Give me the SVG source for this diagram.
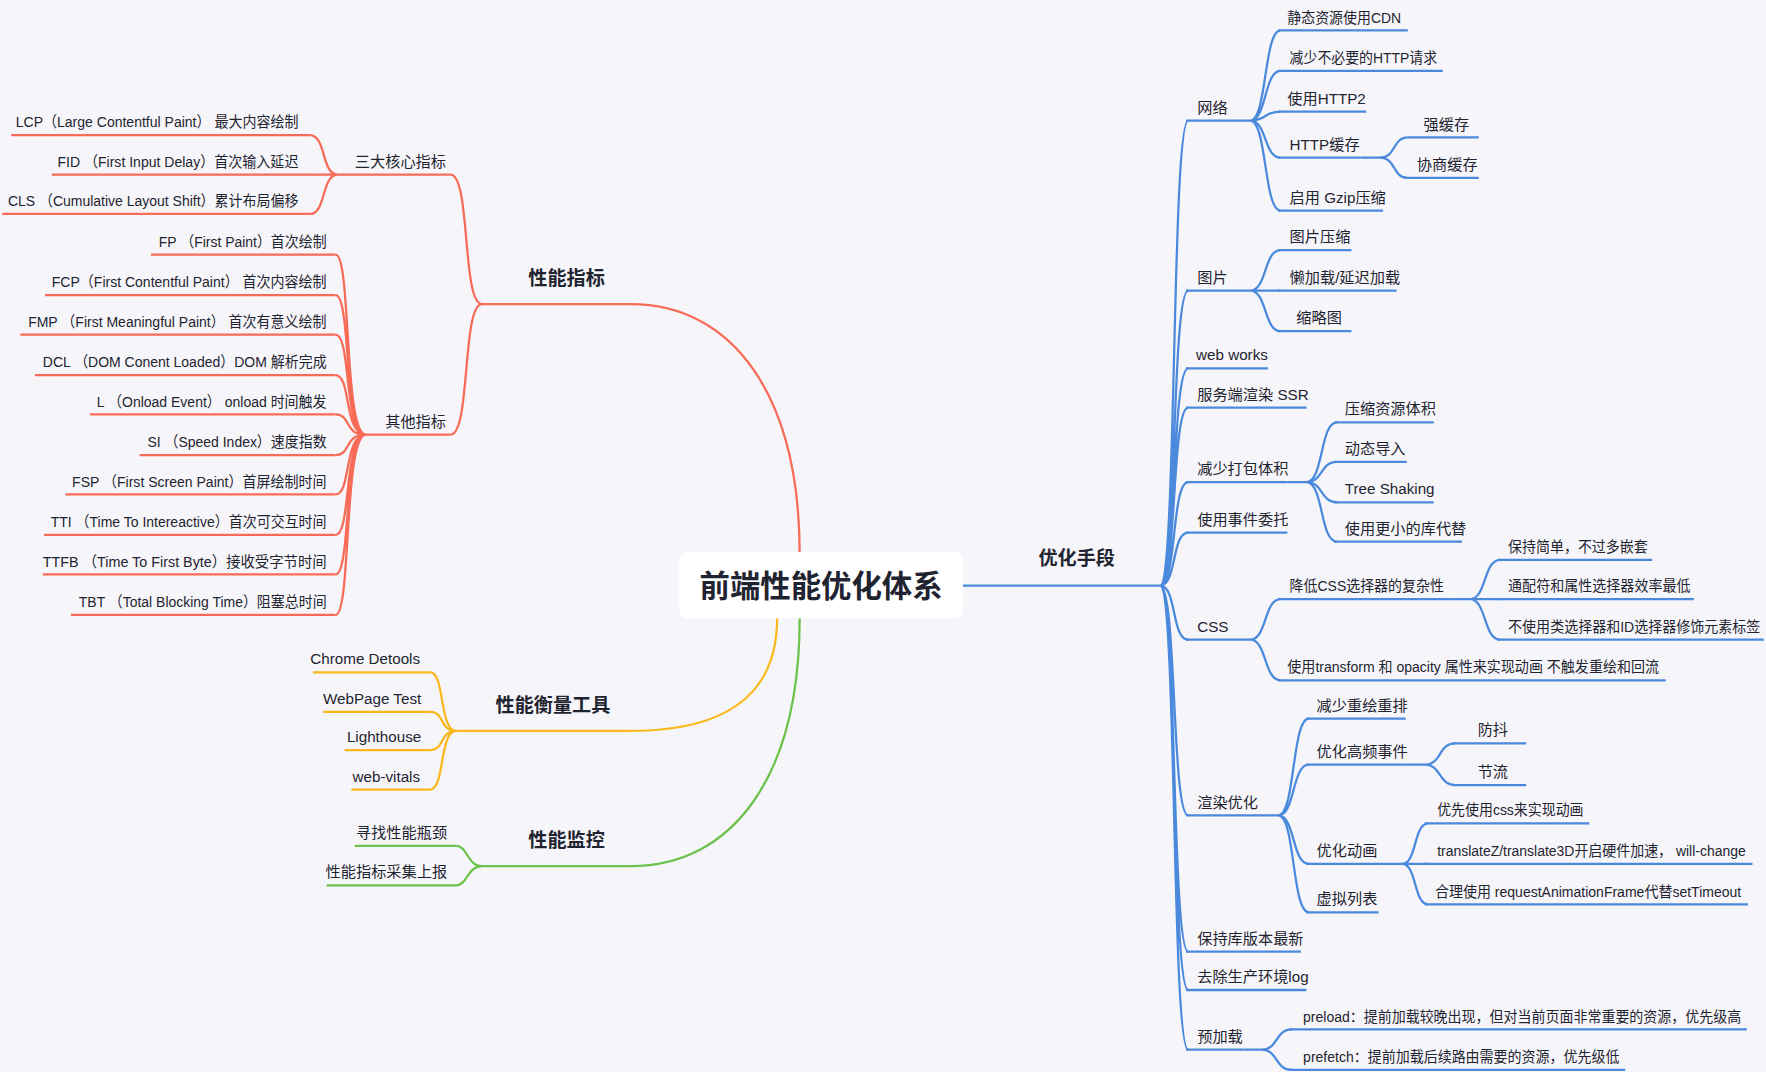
<svg xmlns="http://www.w3.org/2000/svg" width="1766" height="1072" viewBox="0 0 1766 1072">
<style>
text{font-family:"Liberation Sans","Noto Sans CJK SC",sans-serif;font-size:13.5px;fill:#1f2430}
.b{font-size:17px;font-weight:bold;text-anchor:middle}
.e{text-anchor:end}
.r{stroke:#f86b57;stroke-width:2;fill:none}
.y{stroke:#f9b81c;stroke-width:2;fill:none}
.g{stroke:#6cc24a;stroke-width:2;fill:none}
.u{stroke:#4a89dc;stroke-width:2;fill:none}
</style>
<rect width="1766" height="1072" fill="#f6f6fa"/>
<g transform="scale(1.12628)">
<g id="connectors">
<path class="r" d="M710,492 C710,350 650,270 560,270"/>
<path class="r" d="M428,270 C410,270 418,155 400,155"/>
<path class="r" d="M428,270 C410,270 418,386 400,386"/>
<path class="r" d="M300,155 C285,155 290,120 275,120 M300,155 L275,155 M300,155 C285,155 290,190 275,190"/>
<path class="r" d="M325,386 C305,386 312,226 298,226 M325,386 C305,386 312,262 298,262 M325,386 C305,386 312,297 298,297 M325,386 C305,386 312,333 298,333 M325,386 C305,386 312,368 298,368 M325,386 C305,386 312,404 298,404 M325,386 C305,386 312,439 298,439 M325,386 C305,386 312,475 298,475 M325,386 C305,386 312,510 298,510 M325,386 C305,386 312,546 298,546"/>
<path class="y" d="M690,549 C690,620 640,649 560,649"/>
<path class="y" d="M405,649 C390,649 395,597 382,597 M405,649 C390,649 395,632 382,632 M405,649 C390,649 395,666 382,666 M405,649 C390,649 395,701 382,701"/>
<path class="g" d="M710,549 C710,690 650,769 560,769"/>
<path class="g" d="M428,769 C415,769 415,751 405,751 M428,769 C415,769 415,786 405,786"/>
<path class="u" d="M1030,520 C1045,520 1040,107 1055,107 M1030,520 C1045,520 1040,258 1055,258 M1030,520 C1045,520 1040,327 1055,327 M1030,520 C1045,520 1040,362 1055,362 M1030,520 C1045,520 1040,428 1055,428 M1030,520 C1045,520 1040,473 1055,473 M1030,520 C1045,520 1040,568 1055,568 M1030,520 C1045,520 1040,724 1055,724 M1030,520 C1045,520 1040,845 1055,845 M1030,520 C1045,520 1040,879 1055,879 M1030,520 C1045,520 1040,932 1055,932"/>
<path class="u" d="M1093,107 L1110,107 C1125,107 1122,27 1137,27 M1110,107 C1125,107 1122,63 1137,63 M1110,107 C1125,107 1122,99 1137,99 M1110,107 C1125,107 1122,140 1137,140 M1110,107 C1125,107 1122,187 1137,187"/>
<path class="u" d="M1208,140 L1225,140 C1240,140 1236,122 1250,122 M1225,140 C1240,140 1236,158 1250,158"/>
<path class="u" d="M1093,258 L1110,258 C1125,258 1122,222 1137,222 M1110,258 L1137,258 M1110,258 C1125,258 1122,294 1137,294"/>
<path class="u" d="M1143,428 L1160,428 C1175,428 1172,375 1187,375 M1160,428 C1175,428 1172,410 1187,410 M1160,428 C1175,428 1172,446 1187,446 M1160,428 C1175,428 1172,481 1187,481"/>
<path class="u" d="M1093,568 L1110,568 C1125,568 1122,532 1137,532 M1110,568 C1125,568 1122,604 1137,604"/>
<path class="u" d="M1290,532 L1305,532 C1320,532 1317,497 1332,497 M1305,532 L1332,532 M1305,532 C1320,532 1317,568 1332,568"/>
<path class="u" d="M1117,724 L1135,724 C1150,724 1147,638 1162,638 M1135,724 C1150,724 1147,679 1162,679 M1135,724 C1150,724 1147,767 1162,767 M1135,724 C1150,724 1147,810 1162,810"/>
<path class="u" d="M1250,679 L1265,679 C1280,679 1277,660 1292,660 M1265,679 C1280,679 1277,697 1292,697"/>
<path class="u" d="M1225,767 L1245,767 C1258,767 1255,731 1268,731 M1245,767 L1268,767 M1245,767 C1258,767 1255,803 1268,803"/>
<path class="u" d="M1105,932 L1120,932 C1135,932 1132,914 1147,914 M1120,932 C1135,932 1132,950 1147,950"/>
<path class="u" d="M855,520 L1030,520"/>
</g>
<g id="root"><rect x="603" y="490" width="252" height="59" rx="7" fill="#fff"/><text x="729" y="530" style="font-size:27px;font-weight:bold;text-anchor:middle">前端性能优化体系</text></g>
<g id="n-perf"><path class="r" d="M428,270 H560"/><text class="b" x="503" y="253">性能指标</text></g>
<g id="n-core"><path class="r" d="M300,155 H400"/><text x="396" y="148" class="e">三大核心指标</text></g>
<g id="n-other"><path class="r" d="M325,386 H400"/><text x="396" y="379" class="e">其他指标</text></g>
<g id="n-lcp"><path class="r" d="M10,120 H275"/><text x="265" y="113" class="e" textLength="251" lengthAdjust="spacingAndGlyphs">LCP（Large Contentful Paint） 最大内容绘制</text></g>
<g id="n-fid"><path class="r" d="M46,155 H275"/><text x="265" y="148" class="e" textLength="214" lengthAdjust="spacingAndGlyphs">FID （First Input Delay）首次输入延迟</text></g>
<g id="n-cls"><path class="r" d="M2,190 H275"/><text x="265" y="183" class="e" textLength="258" lengthAdjust="spacingAndGlyphs">CLS （Cumulative Layout Shift）累计布局偏移</text></g>
<g id="n-fp"><path class="r" d="M134,226 H298"/><text x="290" y="219" class="e" textLength="149" lengthAdjust="spacingAndGlyphs">FP （First Paint）首次绘制</text></g>
<g id="n-fcp"><path class="r" d="M40,262 H298"/><text x="290" y="255" class="e" textLength="244" lengthAdjust="spacingAndGlyphs">FCP（First Contentful Paint） 首次内容绘制</text></g>
<g id="n-fmp"><path class="r" d="M18,297 H298"/><text x="290" y="290" class="e" textLength="265" lengthAdjust="spacingAndGlyphs">FMP （First Meaningful Paint） 首次有意义绘制</text></g>
<g id="n-dcl"><path class="r" d="M31,333 H298"/><text x="290" y="326" class="e" textLength="252" lengthAdjust="spacingAndGlyphs">DCL （DOM Conent Loaded）DOM 解析完成</text></g>
<g id="n-l"><path class="r" d="M80,368 H298"/><text x="290" y="361" class="e" textLength="204" lengthAdjust="spacingAndGlyphs">L （Onload Event） onload 时间触发</text></g>
<g id="n-si"><path class="r" d="M124,404 H298"/><text x="290" y="397" class="e" textLength="159" lengthAdjust="spacingAndGlyphs">SI （Speed Index）速度指数</text></g>
<g id="n-fsp"><path class="r" d="M58,439 H298"/><text x="290" y="432" class="e" textLength="226" lengthAdjust="spacingAndGlyphs">FSP （First Screen Paint）首屏绘制时间</text></g>
<g id="n-tti"><path class="r" d="M39,475 H298"/><text x="290" y="468" class="e" textLength="245" lengthAdjust="spacingAndGlyphs">TTI （Time To Intereactive）首次可交互时间</text></g>
<g id="n-ttfb"><path class="r" d="M38,510 H298"/><text x="290" y="503" class="e" textLength="252" lengthAdjust="spacingAndGlyphs">TTFB （Time To First Byte）接收受字节时间</text></g>
<g id="n-tbt"><path class="r" d="M63,546 H298"/><text x="290" y="539" class="e" textLength="220" lengthAdjust="spacingAndGlyphs">TBT （Total Blocking Time）阻塞总时间</text></g>
<g id="n-tools"><path class="y" d="M405,649 H560"/><text class="b" x="491" y="632">性能衡量工具</text></g>
<g id="n-chrome"><path class="y" d="M278,597 H382"/><text x="373" y="590" class="e">Chrome Detools</text></g>
<g id="n-wpt"><path class="y" d="M287,632 H382"/><text x="374" y="625" class="e">WebPage Test</text></g>
<g id="n-lh"><path class="y" d="M306,666 H382"/><text x="374" y="659" class="e">Lighthouse</text></g>
<g id="n-wv"><path class="y" d="M312,701 H382"/><text x="373" y="694" class="e">web-vitals</text></g>
<g id="n-mon"><path class="g" d="M428,769 H560"/><text class="b" x="503" y="752">性能监控</text></g>
<g id="n-find"><path class="g" d="M315,751 H405"/><text x="397" y="744" class="e">寻找性能瓶颈</text></g>
<g id="n-report"><path class="g" d="M290,786 H405"/><text x="397" y="779" class="e">性能指标采集上报</text></g>
<g id="n-opt"><text class="b" x="956" y="502">优化手段</text></g>
<g id="n-net"><path class="u" d="M1053,107 H1093"/><text x="1063" y="100">网络</text></g>
<g id="n-cdn"><path class="u" d="M1135,27 H1250"/><text x="1143" y="20" textLength="101" lengthAdjust="spacingAndGlyphs">静态资源使用CDN</text></g>
<g id="n-req"><path class="u" d="M1135,63 H1281"/><text x="1145" y="56" textLength="131" lengthAdjust="spacingAndGlyphs">减少不必要的HTTP请求</text></g>
<g id="n-h2"><path class="u" d="M1135,99 H1213"/><text x="1143" y="92">使用HTTP2</text></g>
<g id="n-hc"><path class="u" d="M1135,140 H1208"/><text x="1145" y="133">HTTP缓存</text></g>
<g id="n-strong"><path class="u" d="M1250,122 H1313"/><text x="1264" y="115">强缓存</text></g>
<g id="n-nego"><path class="u" d="M1250,158 H1313"/><text x="1258" y="151">协商缓存</text></g>
<g id="n-gzip"><path class="u" d="M1135,187 H1228"/><text x="1145" y="180">启用 Gzip压缩</text></g>
<g id="n-img"><path class="u" d="M1053,258 H1093"/><text x="1063" y="251">图片</text></g>
<g id="n-imgc"><path class="u" d="M1135,222 H1200"/><text x="1145" y="215">图片压缩</text></g>
<g id="n-lazy"><path class="u" d="M1135,258 H1240"/><text x="1145" y="251">懒加载/延迟加载</text></g>
<g id="n-thumb"><path class="u" d="M1135,294 H1200"/><text x="1151" y="287">缩略图</text></g>
<g id="n-ww"><path class="u" d="M1053,327 H1126"/><text x="1062" y="320">web works</text></g>
<g id="n-ssr"><path class="u" d="M1053,362 H1160"/><text x="1063" y="355">服务端渲染 SSR</text></g>
<g id="n-bundle"><path class="u" d="M1053,428 H1143"/><text x="1063" y="421">减少打包体积</text></g>
<g id="n-comp"><path class="u" d="M1185,375 H1273"/><text x="1194" y="368">压缩资源体积</text></g>
<g id="n-dyn"><path class="u" d="M1185,410 H1249"/><text x="1194" y="403">动态导入</text></g>
<g id="n-tree"><path class="u" d="M1185,446 H1273"/><text x="1194" y="439">Tree Shaking</text></g>
<g id="n-small"><path class="u" d="M1185,481 H1298"/><text x="1194" y="474">使用更小的库代替</text></g>
<g id="n-deleg"><path class="u" d="M1053,473 H1143"/><text x="1063" y="466">使用事件委托</text></g>
<g id="n-css"><path class="u" d="M1053,568 H1093"/><text x="1063" y="561">CSS</text></g>
<g id="n-sel"><path class="u" d="M1135,532 H1290"/><text x="1145" y="525" textLength="137" lengthAdjust="spacingAndGlyphs">降低CSS选择器的复杂性</text></g>
<g id="n-simple"><path class="u" d="M1330,497 H1467"/><text x="1339" y="490" textLength="124" lengthAdjust="spacingAndGlyphs">保持简单，不过多嵌套</text></g>
<g id="n-wild"><path class="u" d="M1330,532 H1504"/><text x="1339" y="525" textLength="162" lengthAdjust="spacingAndGlyphs">通配符和属性选择器效率最低</text></g>
<g id="n-nocls"><path class="u" d="M1330,568 H1566"/><text x="1339" y="561" textLength="224" lengthAdjust="spacingAndGlyphs">不使用类选择器和ID选择器修饰元素标签</text></g>
<g id="n-trans"><path class="u" d="M1135,604 H1479"/><text x="1143" y="597" textLength="330" lengthAdjust="spacingAndGlyphs">使用transform 和 opacity 属性来实现动画 不触发重绘和回流</text></g>
<g id="n-render"><path class="u" d="M1053,724 H1117"/><text x="1063" y="717">渲染优化</text></g>
<g id="n-reflow"><path class="u" d="M1160,638 H1248"/><text x="1169" y="631">减少重绘重排</text></g>
<g id="n-hf"><path class="u" d="M1160,679 H1250"/><text x="1169" y="672">优化高频事件</text></g>
<g id="n-deb"><path class="u" d="M1290,660 H1355"/><text x="1312" y="653">防抖</text></g>
<g id="n-thr"><path class="u" d="M1290,697 H1355"/><text x="1312" y="690">节流</text></g>
<g id="n-anim"><path class="u" d="M1160,767 H1225"/><text x="1169" y="760">优化动画</text></g>
<g id="n-cssan"><path class="u" d="M1265,731 H1411"/><text x="1276" y="724" textLength="130" lengthAdjust="spacingAndGlyphs">优先使用css来实现动画</text></g>
<g id="n-tz"><path class="u" d="M1265,767 H1556"/><text x="1276" y="760" textLength="274" lengthAdjust="spacingAndGlyphs">translateZ/translate3D开启硬件加速， will-change</text></g>
<g id="n-raf"><path class="u" d="M1265,803 H1552"/><text x="1274" y="796" textLength="272" lengthAdjust="spacingAndGlyphs">合理使用 requestAnimationFrame代替setTimeout</text></g>
<g id="n-vlist"><path class="u" d="M1160,810 H1224"/><text x="1169" y="803">虚拟列表</text></g>
<g id="n-ver"><path class="u" d="M1053,845 H1155"/><text x="1063" y="838">保持库版本最新</text></g>
<g id="n-log"><path class="u" d="M1053,879 H1160"/><text x="1063" y="872">去除生产环境log</text></g>
<g id="n-pre"><path class="u" d="M1053,932 H1105"/><text x="1063" y="925">预加载</text></g>
<g id="n-preload"><path class="u" d="M1145,914 H1551"/><text x="1157" y="907" textLength="389" lengthAdjust="spacingAndGlyphs">preload：提前加载较晚出现，但对当前页面非常重要的资源，优先级高</text></g>
<g id="n-prefetch"><path class="u" d="M1145,950 H1443"/><text x="1157" y="943" textLength="281" lengthAdjust="spacingAndGlyphs">prefetch：提前加载后续路由需要的资源，优先级低</text></g>
</g>
</svg>
